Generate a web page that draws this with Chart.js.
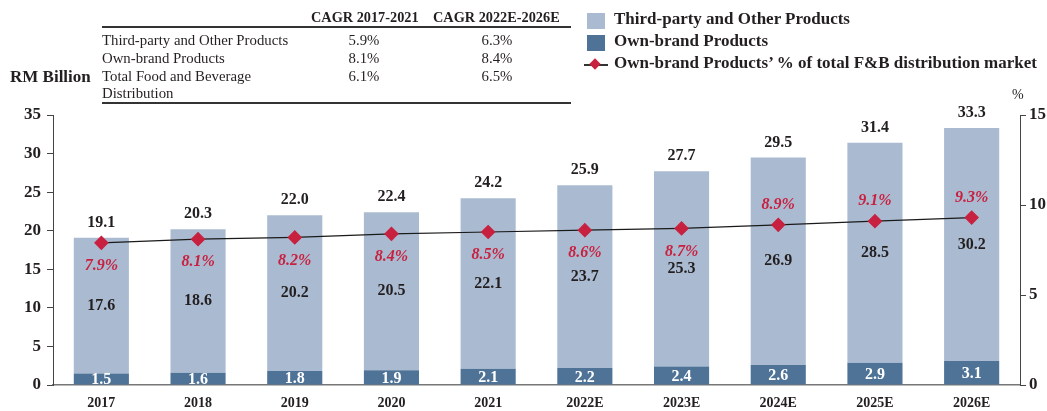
<!DOCTYPE html>
<html><head><meta charset="utf-8">
<script src="https://cdn.jsdelivr.net/npm/chart.js@4.4.1/dist/chart.umd.min.js"></script>
<style>
html,body{margin:0;padding:0;background:#fff;}
#wrap{position:relative;width:1047px;height:411px;font-family:"Liberation Serif","Times New Roman",serif;color:#231f20;}
canvas{position:absolute;left:0;top:0;}
.t{position:absolute;white-space:nowrap;font-size:14.8px;line-height:17px;}
.b{font-weight:bold;}
.c{transform:translateX(-50%);}
.hl{position:absolute;height:1.5px;background:#333;}
.lg{position:absolute;font-weight:bold;font-size:17px;white-space:nowrap;}
.sw{position:absolute;width:18px;height:16px;}
</style></head>
<body><div id="wrap">
<canvas id="c" width="1047" height="411"></canvas>
<div class="t b" style="left:311px;top:9px;font-size:14.3px">CAGR 2017-2021</div>
<div class="t b" style="left:433px;top:9px;font-size:14.3px">CAGR 2022E-2026E</div>
<div class="hl" style="left:102px;top:26px;width:469px"></div>
<div class="t" style="left:102px;top:32px">Third-party and Other Products</div>
<div class="t" style="left:102px;top:50px">Own-brand Products</div>
<div class="t" style="left:102px;top:68px">Total Food and Beverage</div>
<div class="t" style="left:102px;top:85px">Distribution</div>
<div class="t c" style="left:364px;top:32px">5.9%</div>
<div class="t c" style="left:364px;top:50px">8.1%</div>
<div class="t c" style="left:364px;top:68px">6.1%</div>
<div class="t c" style="left:497px;top:32px">6.3%</div>
<div class="t c" style="left:497px;top:50px">8.4%</div>
<div class="t c" style="left:497px;top:68px">6.5%</div>
<div class="hl" style="left:102px;top:102px;width:469px"></div>
<div class="t b" style="left:10px;top:68px;font-size:17px">RM Billion</div>
<div class="sw" style="left:587px;top:13px;background:#aabbd1"></div>
<div class="lg" style="left:614px;top:9px">Third-party and Other Products</div>
<div class="sw" style="left:587px;top:35px;background:#4f7397"></div>
<div class="lg" style="left:614px;top:31px">Own-brand Products</div>
<div style="position:absolute;left:584px;top:64px;width:24px;height:1.5px;background:#333"></div>
<div style="position:absolute;left:591px;top:60px;width:8px;height:8px;background:#c8203f;transform:rotate(45deg)"></div>
<div class="lg" style="left:614px;top:53px">Own-brand Products’ % of total F&amp;B distribution market</div>
<div class="t" style="left:1012px;top:86px;font-size:14px">%</div>
</div>
<script>
const categories = ['2017','2018','2019','2020','2021','2022E','2023E','2024E','2025E','2026E'];
const ownBrand = [1.5,1.6,1.8,1.9,2.1,2.2,2.4,2.6,2.9,3.1];
const thirdParty = [17.6,18.6,20.2,20.5,22.1,23.7,25.3,26.9,28.5,30.2];
const totals = [19.1,20.3,22.0,22.4,24.2,25.9,27.7,29.5,31.4,33.3];
const ownSharePct = [7.9,8.1,8.2,8.4,8.5,8.6,8.7,8.9,9.1,9.3];
const leftTicks = [0,5,10,15,20,25,30,35];
const rightTicks = [0,5,10,15];

const RED = '#c8203f';
const TXT = '#231f20';
const FONT = '"Liberation Serif","Times New Roman",serif';

const labelPlugin = {
  id: 'labels',
  afterDatasetsDraw(chart) {
    const ctx = chart.ctx;
    const y = chart.scales.y;
    const metaDark = chart.getDatasetMeta(0);
    const metaLine = chart.getDatasetMeta(2);
    ctx.save();
    ctx.textAlign = 'center';
    ctx.textBaseline = 'middle';
    categories.forEach((c, i) => {
      const x = metaDark.data[i].x;
      ctx.font = 'bold 16px ' + FONT;
      ctx.fillStyle = '#ffffff';
      ctx.fillText(ownBrand[i].toFixed(1), x, y.getPixelForValue(ownBrand[i] / 2) + 1);
      ctx.fillStyle = TXT;
      ctx.fillText(thirdParty[i].toFixed(1), x, y.getPixelForValue(ownBrand[i] + thirdParty[i] / 2));
      ctx.fillText(totals[i].toFixed(1), x, y.getPixelForValue(totals[i]) - 15);
      const p = metaLine.data[i];
      ctx.font = 'italic bold 16px ' + FONT;
      ctx.fillStyle = RED;
      const above = i >= 7;
      ctx.fillText(ownSharePct[i].toFixed(1) + '%', p.x, above ? p.y - 20 : p.y + 23);
    });
    ctx.restore();
  }
};

new Chart(document.getElementById('c'), {
  type: 'bar',
  data: {
    labels: categories,
    datasets: [
      { label: 'Own-brand Products', data: ownBrand, backgroundColor: '#4f7397', stack: 's', order: 1, yAxisID: 'y' },
      { label: 'Third-party and Other Products', data: thirdParty, backgroundColor: '#aabbd1', stack: 's', order: 1, yAxisID: 'y' },
      { type: 'line', label: "Own-brand Products' % of total F&B distribution market", data: ownSharePct, yAxisID: 'y1', order: 0,
        borderColor: '#1a1a1a', borderWidth: 1.2, pointStyle: 'rectRot', pointRadius: 6.5, pointHoverRadius: 6.5,
        pointBackgroundColor: RED, pointBorderColor: RED, tension: 0 }
    ]
  },
  options: {
    responsive: false,
    animation: false,
    events: [],
    layout: { padding: { top: 115, left: 0, right: 0, bottom: 0 } },
    plugins: { legend: { display: false }, tooltip: { enabled: false } },
    datasets: { bar: { barPercentage: 0.57, categoryPercentage: 1 } },
    scales: {
      x: {
        stacked: true,
        grid: { display: false },
        border: { display: true, color: '#777', width: 1.5 },
        ticks: { color: TXT, font: { family: FONT, weight: 'bold', size: 14 }, padding: 2 },
        afterFit(s) { s.height = 26; }
      },
      y: {
        stacked: true, min: 0, max: 35,
        afterBuildTicks(s) { s.ticks = leftTicks.map(v => ({ value: v })); },
        grid: { drawOnChartArea: false, drawTicks: true, tickLength: 6, color: '#444' },
        border: { display: true, color: '#444', width: 1 },
        ticks: { color: TXT, font: { family: FONT, weight: 'bold', size: 17 }, padding: 6 },
        afterFit(s) { s.width = 53; }
      },
      y1: {
        position: 'right', min: 0, max: 15,
        afterBuildTicks(s) { s.ticks = rightTicks.map(v => ({ value: v })); },
        grid: { drawOnChartArea: false, drawTicks: true, tickLength: 6, color: '#444' },
        border: { display: true, color: '#444', width: 1 },
        ticks: { color: TXT, font: { family: FONT, weight: 'bold', size: 17 }, padding: 3 },
        afterFit(s) { s.width = 27; }
      }
    }
  },
  plugins: [labelPlugin]
});
</script>
</body></html>
